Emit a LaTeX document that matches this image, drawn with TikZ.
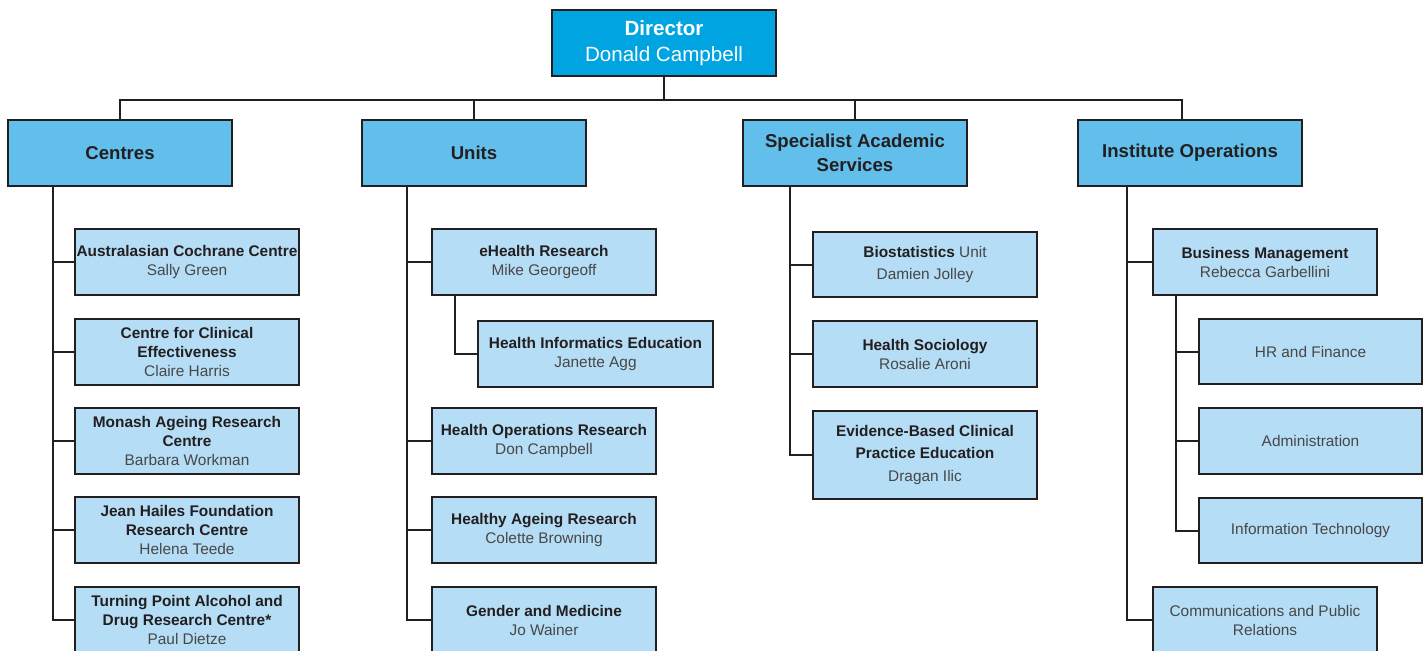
\documentclass[tikz,border=0pt]{standalone}
\usepackage{fontspec}
\setmainfont{Liberation Sans}
\definecolor{dirblue}{HTML}{00A4E0}
\definecolor{catblue}{HTML}{62BFEC}
\definecolor{subblue}{HTML}{B5DDF5}
\definecolor{ink}{HTML}{231F20}
\definecolor{namegray}{HTML}{474747}
\newcommand{\nm}[1]{{\mdseries\color{namegray}#1}}
\newcommand{\ttl}[1]{{\bfseries #1}}
\tikzset{
  box/.style={draw=ink, line width=1pt, rectangle, anchor=north west, outer sep=0pt,
    minimum width=112pt, minimum height=33pt, inner sep=0pt, align=center},
  dirbox/.style={box, fill=dirblue, text=white, font=\fontsize{10.3}{13}\selectfont},
  catbox/.style={box, fill=catblue, text=ink, font=\fontsize{9.3}{12}\selectfont\bfseries},
  subbox/.style={box, fill=subblue, text=ink, font=\fontsize{7.7}{9.5}\selectfont},
  widesub/.style={subbox, font=\fontsize{7.7}{11.2}\selectfont},
  wire/.style={draw=ink, line width=1pt},
}
\begin{document}
\begin{tikzpicture}[x=0.5pt, y=-0.5pt]
\useasboundingbox (0,0) rectangle (1427,650);
\clip (0,0) rectangle (1427,650);
\fill[white] (0,0) rectangle (1427,650);

% Director
\node[dirbox] (dir) at (552,10) {\textbf{Director}\\Donald Campbell};

% Categories
\node[catbox] (cen) at (8,120) {Centres};
\node[catbox] (uni) at (362,120) {Units};
\node[catbox] (spe) at (743,120) {Specialist Academic\\Services};
\node[catbox] (ins) at (1078,120) {Institute Operations};

% Centres children
\node[subbox] (c1) at (75,229) {\ttl{Australasian Cochrane Centre}\\\nm{Sally Green}};
\node[subbox] (c2) at (75,319) {\ttl{Centre for Clinical}\\\ttl{Effectiveness}\\\nm{Claire Harris}};
\node[subbox] (c3) at (75,408) {\ttl{Monash Ageing Research}\\\ttl{Centre}\\\nm{Barbara Workman}};
\node[subbox] (c4) at (75,497) {\ttl{Jean Hailes Foundation}\\\ttl{Research Centre}\\\nm{Helena Teede}};
\node[subbox] (c5) at (75,587) {\ttl{Turning Point Alcohol and}\\\ttl{Drug Research Centre*}\\\nm{Paul Dietze}};

% Units children
\node[subbox] (u1) at (432,229) {\ttl{eHealth Research}\\\nm{Mike Georgeoff}};
\node[subbox, minimum width=117.5pt] (u1a) at (478,321) {\ttl{Health Informatics Education}\\\nm{Janette Agg}};
\node[subbox] (u2) at (432,408) {\ttl{Health Operations Research}\\\nm{Don Campbell}};
\node[subbox] (u3) at (432,497) {\ttl{Healthy Ageing Research}\\\nm{Colette Browning}};
\node[subbox] (u4) at (432,587) {\ttl{Gender and Medicine}\\\nm{Jo Wainer}};

% Specialist children
\node[widesub, minimum height=32.5pt] (s1) at (813,232) {\ttl{Biostatistics} \nm{Unit}\\\nm{Damien Jolley}};
\node[subbox] (s2) at (813,321) {\ttl{Health Sociology}\\\nm{Rosalie Aroni}};
\node[widesub, minimum height=44pt] (s3) at (813,411) {\ttl{Evidence-Based Clinical}\\\ttl{Practice Education}\\\nm{Dragan Ilic}};

% Institute children
\node[subbox] (i1) at (1153,229) {\ttl{Business Management}\\\nm{Rebecca Garbellini}};
\node[subbox, minimum width=111.5pt, minimum height=32.5pt] (i1a) at (1199,319) {\nm{HR and Finance}};
\node[subbox, minimum width=111.5pt] (i1b) at (1199,408) {\nm{Administration}};
\node[subbox, minimum width=111.5pt, minimum height=32.5pt] (i1c) at (1199,498) {\nm{Information Technology}};
\node[subbox] (i2) at (1153,587) {\nm{Communications and Public}\\\nm{Relations}};

% Top connectors
\coordinate (bus) at (664,100);
\draw[wire] (dir.south) -- (dir.south |- bus);
\draw[wire] (cen.north) |- (bus);
\draw[wire] (uni.north) |- (bus);
\draw[wire] (spe.north) |- (bus);
\draw[wire] ([xshift=-4pt]ins.north) |- (bus);

% Centres spine
\foreach \c in {c1,c2,c3,c4,c5}
  \draw[wire] ([xshift=22.5pt]cen.south west) |- (\c.west);
% Units spine
\foreach \c in {u1,u2,u3,u4}
  \draw[wire] ([xshift=22.5pt]uni.south west) |- (\c.west);
\draw[wire] ([xshift=11.5pt]u1.south west) |- (u1a.west);
% Specialist spine
\foreach \c in {s1,s2,s3}
  \draw[wire] ([xshift=23.5pt]spe.south west) |- (\c.west);
% Institute spine
\foreach \c in {i1,i2}
  \draw[wire] ([xshift=24.5pt]ins.south west) |- (\c.west);
\foreach \c in {i1a,i1b,i1c}
  \draw[wire] ([xshift=11.5pt]i1.south west) |- (\c.west);
\end{tikzpicture}
\end{document}
